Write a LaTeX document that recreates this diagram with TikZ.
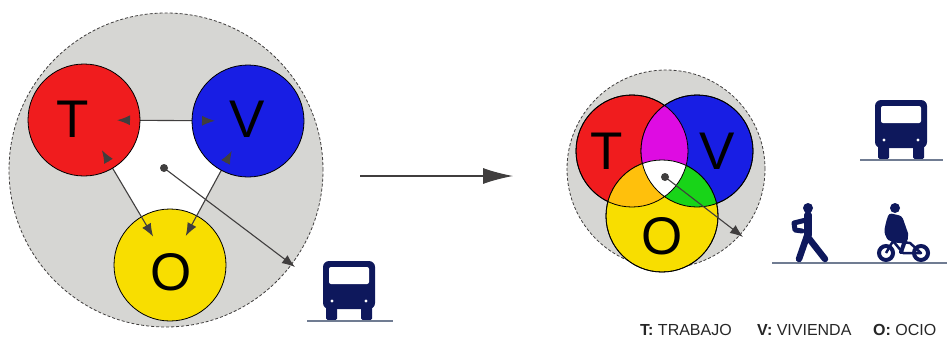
\documentclass[tikz,border=0pt]{standalone}
\usepackage{fontspec}
\setmainfont{Liberation Sans}
\usetikzlibrary{arrows.meta,calc}

\definecolor{fondo}{RGB}{214,214,211}
\definecolor{rojo}{RGB}{240,28,30}
\definecolor{azul}{RGB}{24,30,228}
\definecolor{amarillo}{RGB}{248,222,0}
\definecolor{morado}{RGB}{222,12,226}
\definecolor{verde}{RGB}{24,212,24}
\definecolor{naranja}{RGB}{255,192,12}
\definecolor{gris}{RGB}{64,62,62}
\definecolor{icono}{RGB}{14,24,92}
\definecolor{suelo}{RGB}{112,124,146}

\tikzset{
  zona/.style={circle,draw=gris,fill=fondo,densely dashed,line width=0.8pt,inner sep=0pt},
  esfera/.style={circle,draw=black,line width=0.8pt,minimum size=112pt,inner sep=0pt},
  letra/.style={font=\fontsize{53}{53}\selectfont,inner sep=0pt},
  flecha/.style={draw=gris,line width=1.1pt},
  punto/.style={circle,fill=gris,inner sep=0pt,minimum size=8pt},
  leyenda/.style={font=\fontsize{16}{19}\selectfont,text=black!85,inner sep=0pt},
  bus/.pic={
    \fill[icono,rounded corners=6pt] (-26,-11) rectangle (26,-59);
    \fill[white,rounded corners=2pt] (-20,-36) rectangle (20,-53);
    \fill[white] (-17,-19) circle (1.6) (17,-19) circle (1.6);
    \fill[icono,rounded corners=1.5pt] (-23,-14) rectangle (-12,0);
    \fill[icono,rounded corners=1.5pt] (12,-14) rectangle (23,0);
  }
}

\begin{document}
\begin{tikzpicture}[x=1pt,y=-1pt,>={Latex[length=13pt,width=10pt]}]
\useasboundingbox (0,0) rectangle (949,340);

% ciudad dispersa
\node[zona,minimum size=314pt] (zona1) at (166,170) {};
\coordinate (cT) at (84,120);
\coordinate (cV) at (248,121);
\coordinate (cO) at (170,265);
\fill[white] (cT) -- (cV) -- (cO) -- cycle;
\node[esfera,fill=amarillo] (O) at (cO) {};
\draw[flecha] (cT) -- (cV);
\draw[flecha,->,shorten >=33pt] (cT) -- (O.center);
\draw[flecha,->,shorten >=33pt] (cV) -- (O.center);
\node[esfera,fill=rojo] (T) at (cT) {};
\node[esfera,fill=azul] (V) at (cV) {};
\node[letra] (tT) at (73,119) {T};
\node[letra] (tV) at (247,119) {V};
\node[letra] (tO) at (171,272) {O};

% puntas
\draw[flecha,->] ($(T.center)!46pt!(V.center)$) -- ($(T.center)!33pt!(V.center)$);
\draw[flecha,->] ($(V.center)!46pt!(T.center)$) -- ($(V.center)!33pt!(T.center)$);
\draw[flecha,->] ($(T.center)!48pt!(O.center)$) -- ($(T.center)!35pt!(O.center)$);
\draw[flecha,->] ($(V.center)!47pt!(O.center)$) -- ($(V.center)!34pt!(O.center)$);

\coordinate (fin1) at (295,267);
\node[punto] (c1) at (164,168) {};
\draw[flecha,->] (c1.center) -- (fin1);

\pic at (349,320) {bus};
\coordinate (s1a) at (307,321);
\coordinate (s1b) at (393,321);
\draw[suelo,line width=2.5pt] (s1a) -- (s1b);

% flecha central
\coordinate (a1) at (360,176);
\coordinate (a2) at (513,176);
\draw[flecha,-{Latex[length=30pt,width=16pt]}] (a1) -- (a2);

% ciudad compacta
\node[zona,minimum size=198pt] (zona2) at (666,169) {};
\node[esfera,fill=rojo] (T2) at (632,151) {};
\node[esfera,fill=azul] (V2) at (697,151) {};
\node[esfera,fill=amarillo] (O2) at (662,216) {};
\begin{scope}
  \clip (T2.center) circle (56);
  \fill[morado] (V2.center) circle (56);
  \fill[naranja] (O2.center) circle (56);
\end{scope}
\begin{scope}
  \clip (V2.center) circle (56);
  \fill[verde] (O2.center) circle (56);
\end{scope}
\begin{scope}
  \clip (T2.center) circle (56);
  \clip (V2.center) circle (56);
  \fill[white] (O2.center) circle (56);
\end{scope}
\draw[line width=0.8pt] (T2.center) circle (56) (V2.center) circle (56) (O2.center) circle (56);
\node[letra] (tT2) at (607,151) {T};
\node[letra] (tV2) at (717,151) {V};
\node[letra] (tO2) at (662,236) {O};

\coordinate (fin2) at (743,237);
\node[punto] (c2) at (665,177) {};
\draw[flecha,->] (c2.center) -- (fin2);

% transportes
\pic at (901,159) {bus};
\coordinate (s2a) at (860,160);
\coordinate (s2b) at (943,160);
\draw[suelo,line width=2.5pt] (s2a) -- (s2b);

\coordinate (s3a) at (772,263);
\coordinate (s3b) at (947,263);
\draw[suelo,line width=2.5pt] (s3a) -- (s3b);

% peaton
\fill[icono] (808,208) circle (5);
\draw[icono,line width=7.5pt,line cap=round] (808,215) -- (808,235);
\draw[icono,line width=6.5pt,line cap=round,line join=round] (799,259) -- (807,236) -- (825,259);
\draw[icono,line width=5pt,line cap=round,line join=round] (806,220) -- (794,223) -- (795,230) -- (802,231);

% ciclista
\fill[icono] (895,208) circle (5);
\fill[icono,rounded corners=3pt] (889,213) -- (902,216) -- (909,236) -- (905,241) -- (888,241) -- (884,232) -- (886,222) -- cycle;
\draw[icono,line width=4pt] (886,253) circle (7) (921,253) circle (7);
\draw[icono,line width=2.5pt,line join=round] (886,253) -- (893,241) -- (910,243) -- (921,253) -- (903,253) -- (893,241);
\draw[icono,line width=4pt,line cap=round] (906,238) -- (901,252);

% leyenda
\node[leyenda,anchor=base west] (legT) at (640,335) {\textbf{T:} TRABAJO};
\node[leyenda,anchor=base west] (legV) at (757,335) {\textbf{V:} VIVIENDA};
\node[leyenda,anchor=base west] (legO) at (873,335) {\textbf{O:} OCIO};
\end{tikzpicture}
\end{document}
